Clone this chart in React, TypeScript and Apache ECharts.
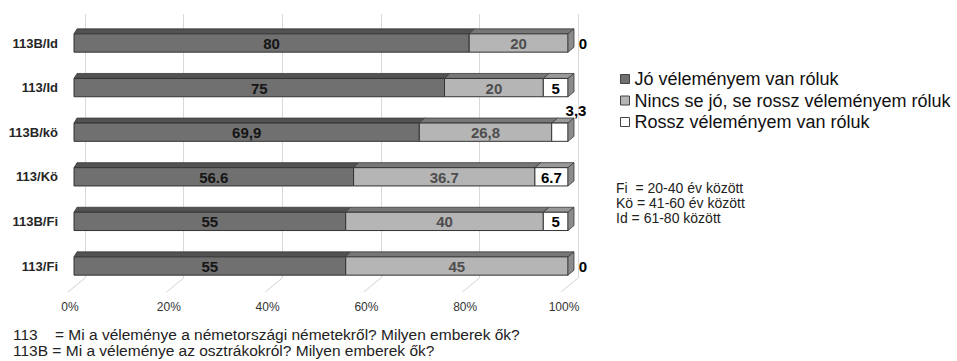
import React, { useEffect, useRef } from "react";
import * as echarts from "echarts";

// Age-group / question combinations, top to bottom
const categories = ["113B/Id", "113/Id", "113B/kö", "113/Kö", "113B/Fi", "113/Fi"];
// Decimal mark used in each row's value labels
const decimalMarks = [",", ",", ",", ".", ",", ","];

const seriesNames = [
  "Jó véleményem van róluk",
  "Nincs se jó, se rossz véleményem róluk",
  "Rossz véleményem van róluk",
];
const goodValues = [80, 75, 69.9, 56.6, 55, 55];
const neutralValues = [20, 20, 26.8, 36.7, 40, 45];
const badValues = [0, 5, 3.3, 6.7, 5, 0];

const percentTicks = [0, 20, 40, 60, 80, 100];

const ageNotes = ["Fi  = 20-40 év között", "Kö = 41-60 év között", "Id = 61-80 között"];
const questionNotes = [
  "113    = Mi a véleménye a németországi németekről? Milyen emberek ők?",
  "113B = Mi a véleménye az osztrákokról? Milyen emberek ők?",
];

const FONT = 'Arial, "Liberation Sans", sans-serif';
const FRONT = ["#707070", "#b5b5b5", "#ffffff"];
const TOP = ["#525252", "#777777", "#999999"];
const SIDE = "#8c8c8c";
const LABEL = ["#151515", "#4e4e4e", "#000000"];
const DEPTH_Y = 5;

const fmt = (v: number, row: number) => String(v).replace(".", decimalMarks[row]);

const valueRows = [goodValues, neutralValues, badValues];

// one data item per row: [row, start, end, value]
const segmentData = (k: number) =>
  categories.map((_, row) => {
    let start = 0;
    for (let j = 0; j < k; j++) start += valueRows[j][row];
    const v = valueRows[k][row];
    return [row, start, start + v, v];
  });

const renderSegment = (k: number) => (params: any, api: any) => {
  const row = api.value(0);
  const s = api.value(1);
  const e = api.value(2);
  const v = api.value(3);
  const left = api.coord([0, row])[0];
  const right = api.coord([100, row])[0];
  const p0 = api.coord([s, row]);
  const p1 = api.coord([e, row]);
  const h = api.size([0, 1])[1] * 0.41;
  const yTop = p0[1] - h / 2;
  const yBot = yTop + h;
  const depthX = (x: number) => 3 + (3 * (x - left)) / (right - left);
  const x0 = p0[0];
  const x1 = p1[0];
  const d0 = depthX(x0);
  const d1 = depthX(x1);
  const children: any[] = [];
  if (e > s) {
    children.push({
      type: "polygon",
      shape: {
        points: [
          [x0, yTop],
          [x1, yTop],
          [x1 + d1, yTop - DEPTH_Y],
          [x0 + d0, yTop - DEPTH_Y],
        ],
      },
      style: { fill: TOP[k], stroke: "#3a3a3a", lineWidth: 0.8 },
    });
    children.push({
      type: "rect",
      shape: { x: x0, y: yTop, width: x1 - x0, height: h },
      style: { fill: FRONT[k], stroke: "#333333", lineWidth: 1 },
    });
    if (e >= 99.95) {
      children.push({
        type: "polygon",
        shape: {
          points: [
            [x1, yTop],
            [x1 + d1, yTop - DEPTH_Y],
            [x1 + d1, yBot - DEPTH_Y],
            [x1, yBot],
          ],
        },
        style: { fill: SIDE, stroke: "#3a3a3a", lineWidth: 0.8 },
      });
    }
  }
  let tx = (x0 + x1) / 2;
  let ty = p0[1] + 0.5;
  if (v === 0) {
    tx = x1 + d1 + 9;
  } else if (v < 4) {
    tx = x1 + 8;
    ty = yTop - DEPTH_Y - 8;
  }
  children.push({
    type: "text",
    style: {
      text: fmt(v, row),
      x: tx,
      y: ty,
      align: "center",
      verticalAlign: "middle",
      fill: v < 4 ? "#000000" : LABEL[k],
      fontSize: 15,
      fontWeight: "bold",
      fontFamily: FONT,
    },
  });
  return { type: "group", children };
};

const renderFloorLine = (params: any, api: any) => {
  const p = api.coord([api.value(0), 0]);
  return {
    type: "line",
    shape: { x1: p[0], y1: p[1], x2: p[0] - 17, y2: p[1] + 14 },
    style: { stroke: "#d3d3d3", lineWidth: 1 },
  };
};

export default function App() {
  const ref = useRef<HTMLDivElement>(null);
  useEffect(() => {
    if (!ref.current) return;
    const chart = echarts.init(ref.current, undefined, { renderer: "svg" });
    chart.setOption({
      animation: false,
      backgroundColor: "#ffffff",
      grid: [
        { left: 74, right: 389, top: 20.7, bottom: 72.7 },
        { left: 85, right: 379, top: 14, bottom: 83 },
      ],
      xAxis: [
        {
          type: "value",
          gridIndex: 0,
          min: 0,
          max: 100,
          interval: 20,
          axisLine: { show: false },
          axisTick: { show: false },
          splitLine: { show: false },
          axisLabel: {
            formatter: "{value}%",
            margin: 13,
            fontSize: 12,
            fontFamily: FONT,
            color: "#333333",
            padding: [0, 8, 0, 0],
          },
        },
        {
          type: "value",
          gridIndex: 1,
          min: 0,
          max: 100,
          interval: 20,
          axisLine: { show: false },
          axisTick: { show: false },
          axisLabel: { show: false },
          splitLine: { show: true, lineStyle: { color: "#d9d9d9", width: 1 } },
        },
      ],
      yAxis: [
        {
          type: "category",
          gridIndex: 0,
          data: categories,
          inverse: true,
          axisLine: { show: false },
          axisTick: { show: false },
          axisLabel: {
            margin: 16,
            fontSize: 13,
            fontWeight: "bold",
            fontFamily: FONT,
            color: "#262626",
            padding: [6, 0, 0, 0],
          },
        },
        { type: "value", gridIndex: 1, min: 0, max: 1, show: false },
      ],
      legend: {
        orient: "vertical",
        left: 615,
        top: 65,
        itemWidth: 9,
        itemHeight: 9,
        itemGap: 3.5,
        icon: "rect",
        data: seriesNames,
        textStyle: { fontSize: 18, lineHeight: 18, color: "#111111", fontFamily: FONT },
        itemStyle: { borderColor: "#444444", borderWidth: 1 },
      },
      series: [
        {
          type: "custom",
          name: "floor",
          xAxisIndex: 1,
          yAxisIndex: 1,
          silent: true,
          data: percentTicks.map((t) => [t, 0]),
          renderItem: renderFloorLine,
          z: 1,
        },
        ...seriesNames.map((name, k) => ({
          type: "custom",
          name,
          xAxisIndex: 0,
          yAxisIndex: 0,
          itemStyle: { color: FRONT[k], borderColor: "#444444", borderWidth: 1 },
          data: segmentData(k),
          renderItem: renderSegment(k),
          z: 2 + k,
        })),
      ],
      graphic: [
        ...ageNotes.map((t, i) => ({
          type: "text",
          left: 616,
          top: 181 + i * 15,
          style: { text: t, fontSize: 14, fontFamily: FONT, fill: "#222222" },
        })),
        ...questionNotes.map((t, i) => ({
          type: "text",
          left: 13,
          top: 326 + i * 16,
          style: { text: t, fontSize: 15.5, fontFamily: FONT, fill: "#222222" },
        })),
      ],
    });
    return () => chart.dispose();
  }, []);
  return (
    <div
      ref={ref}
      style={{ position: "fixed", left: 0, top: 0, width: 957, height: 361 }}
    />
  );
}
